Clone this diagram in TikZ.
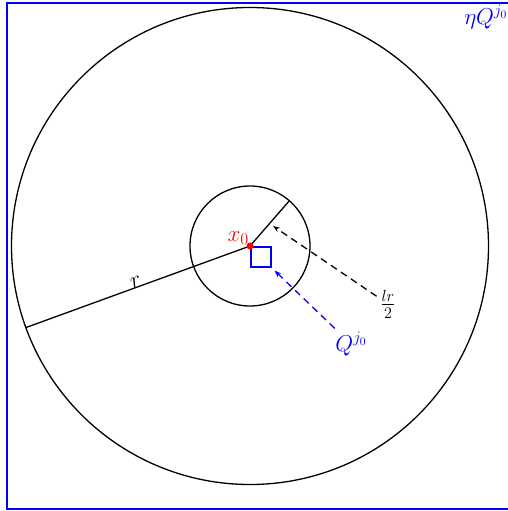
\documentclass[tikz,border=0pt]{standalone}
\usepackage{fix-cm}
\usepackage{amsmath}
\usetikzlibrary{arrows.meta}

\begin{document}
\begin{tikzpicture}[x=1pt,y=1pt,line width=1.3pt,>={Stealth[length=7pt,width=5pt]},
    lbl/.style={font=\fontsize{23}{28}\selectfont},
    dsh/.style={dash pattern=on 7pt off 5pt}]
  \useasboundingbox (-250,-265) rectangle (258,246);
  % outer cube
  \draw[blue,line width=2pt] (-242.5,-263) rectangle (259.5,243);
  \coordinate (bigNE) at (259.5,243);
  \node[lbl,blue,anchor=north east,inner sep=1.5pt] (etaQ) at (bigNE) {$\eta Q^{j_0}$};
  % balls
  \coordinate (x0) at (0,0);
  \draw (x0) circle (238.5);
  \draw (x0) circle (60);
  \coordinate (rEnd) at (200:238.5);
  \coordinate (sEnd) at (49:60);
  \draw (rEnd) -- node[lbl,midway,above,sloped,inner sep=0pt] (rlab) {$r$} (x0);
  \draw (x0) -- (sEnd);
  % small cube
  \node[draw=blue,line width=2pt,minimum size=20pt,inner sep=0pt,anchor=north west] (sq) at (x0) {};
  \fill[red] (x0) circle (3.5);
  \node[lbl,red,anchor=south east,inner sep=0.5pt] (x0lab) at (x0) {$x_0$};
  % labels and arrows
  \node[lbl] (half) at (138,-58) {$\frac{lr}{2}$};
  \coordinate (tip) at (23,20);
  \draw[->,dsh] (half) -- (tip);
  \node[lbl,blue] (Qlab) at (101,-98) {$Q^{j_0}$};
  \draw[->,dsh,blue] (Qlab) -- ([shift={(2.5pt,-2.5pt)}]sq.south east);
\end{tikzpicture}
\end{document}
